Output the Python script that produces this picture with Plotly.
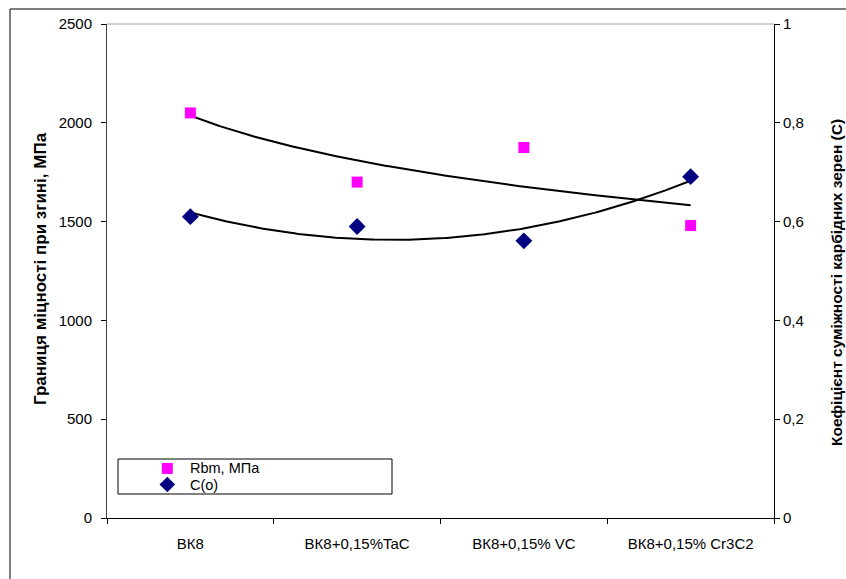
import numpy as np
import plotly.graph_objects as go

categories = ["ВК8", "ВК8+0,15%TaC", "ВК8+0,15% VC", "ВК8+0,15% Cr3C2"]
rbm_values = [2050, 1700, 1875, 1480]
c_values = [0.610, 0.590, 0.561, 0.691]
left_ticks = [0, 500, 1000, 1500, 2000, 2500]
right_ticks = [0, 0.2, 0.4, 0.6, 0.8, 1.0]
right_labels = ["0", "0,2", "0,4", "0,6", "0,8", "1"]
series_names = ["Rbm, МПа", "С(о)"]

x = np.arange(1, len(categories) + 1)
xs = np.linspace(1, len(categories), 200)

# Excel-style trendlines: logarithmic for Rbm, polynomial (2nd order) for C
b, a = np.polyfit(np.log(x), rbm_values, 1)
rbm_trend = a + b * np.log(xs)
c_trend = np.polyval(np.polyfit(x, c_values, 2), xs)

FONT = "Liberation Sans, Arial, sans-serif"
W, H = 846, 579
L, R, T, B = 107, 774, 24, 518   # plot area in pixels


def px(v):
    return (v - L) / (R - L)


def py(v):
    return (B - v) / (B - T)


sq = dict(symbol="square", size=11, color="#FF00FF")
dm = dict(symbol="diamond", size=13, color="#000080")

fig = go.Figure()
fig.add_trace(go.Scatter(x=xs, y=rbm_trend, mode="lines", line=dict(color="black", width=2),
                         showlegend=False, hoverinfo="skip"))
fig.add_trace(go.Scatter(x=xs, y=c_trend, mode="lines", line=dict(color="black", width=2),
                         showlegend=False, hoverinfo="skip", yaxis="y2"))
fig.add_trace(go.Scatter(x=x, y=rbm_values, mode="markers", name=series_names[0],
                         marker=sq, showlegend=False))
fig.add_trace(go.Scatter(x=x, y=c_values, mode="markers", name=series_names[1], yaxis="y2",
                         marker=dm, showlegend=False))

# Legend box (drawn on its own hidden axes, which span the legend box)
LX0, LX1, LY0, LY1 = 118, 392, 459, 494
leg_y = [0.73, 0.27]
fig.add_trace(go.Scatter(x=[0.18], y=[leg_y[0]], mode="markers", marker=sq, xaxis="x3",
                         yaxis="y3", showlegend=False, hoverinfo="skip", cliponaxis=False))
fig.add_trace(go.Scatter(x=[0.18], y=[leg_y[1]], mode="markers", marker=dict(dm, size=12),
                         xaxis="x3", yaxis="y3", showlegend=False, hoverinfo="skip",
                         cliponaxis=False))
for name, yy in zip(series_names, leg_y):
    fig.add_annotation(text=name, xref="x3", yref="y3", x=0.26, y=yy, xanchor="left",
                       yanchor="middle", showarrow=False, font=dict(size=14.5),
                       borderpad=0)

fig.update_layout(
    width=W, height=H,
    margin=dict(l=L, r=W - R, t=T, b=H - B),
    paper_bgcolor="white", plot_bgcolor="white",
    font=dict(family=FONT, size=15, color="black"),
    xaxis=dict(range=[0.5, 4.5], tickmode="array", tickvals=list(x), ticktext=categories,
               ticks="", showline=True, linecolor="black", linewidth=1, showgrid=False,
               zeroline=False, ticklabelstandoff=12,
               minor=dict(tickvals=[0.5, 1.5, 2.5, 3.5, 4.5], ticks="outside", ticklen=5,
                          tickcolor="black", showgrid=False)),
    yaxis=dict(range=[0, 2500], tickmode="array", tickvals=left_ticks,
               ticktext=[str(v) for v in left_ticks], ticks="outside", ticklen=5,
               tickcolor="black", showline=True, linecolor="#404040", linewidth=1,
               showgrid=False, zeroline=False, ticklabelstandoff=6),
    yaxis2=dict(range=[0, 1], overlaying="y", side="right", tickmode="array",
                tickvals=right_ticks, ticktext=right_labels, ticks="outside", ticklen=5,
                tickcolor="black", showline=True, linecolor="black", linewidth=1,
                showgrid=False, zeroline=False),
    xaxis3=dict(domain=[px(LX0), px(LX1)], range=[0, 1], visible=False, anchor="y3",
                fixedrange=True),
    yaxis3=dict(domain=[py(LY1), py(LY0)], range=[0, 1], visible=False, anchor="x3",
                fixedrange=True),
    showlegend=False,
)

fig.add_shape(type="rect", xref="paper", yref="paper",
              x0=px(LX0), x1=px(LX1), y0=py(LY1), y1=py(LY0),
              line=dict(color="black", width=1))
fig.add_shape(type="line", xref="paper", yref="paper", x0=0, x1=1, y0=1, y1=1,
              line=dict(color="#A0A0A0", width=1))
fig.add_shape(type="rect", xref="paper", yref="paper",
              x0=px(10), x1=px(900), y0=py(620), y1=py(9),
              line=dict(color="black", width=1))

fig.add_annotation(text="<b>Границя міцності при згині, МПа</b>", xref="paper", yref="paper",
                   x=px(40), y=py(269), textangle=-90, showarrow=False,
                   font=dict(size=17), xanchor="center", yanchor="middle")
fig.add_annotation(text="<b>Коефіцієнт суміжності карбідних зерен (С)</b>", xref="paper",
                   yref="paper", x=px(836), y=py(283), textangle=-90,
                   showarrow=False, font=dict(size=15.5), xanchor="center", yanchor="middle")

fig.write_html("out.html", config={"displayModeBar": False},
               post_script="document.body.style.margin='0';")
